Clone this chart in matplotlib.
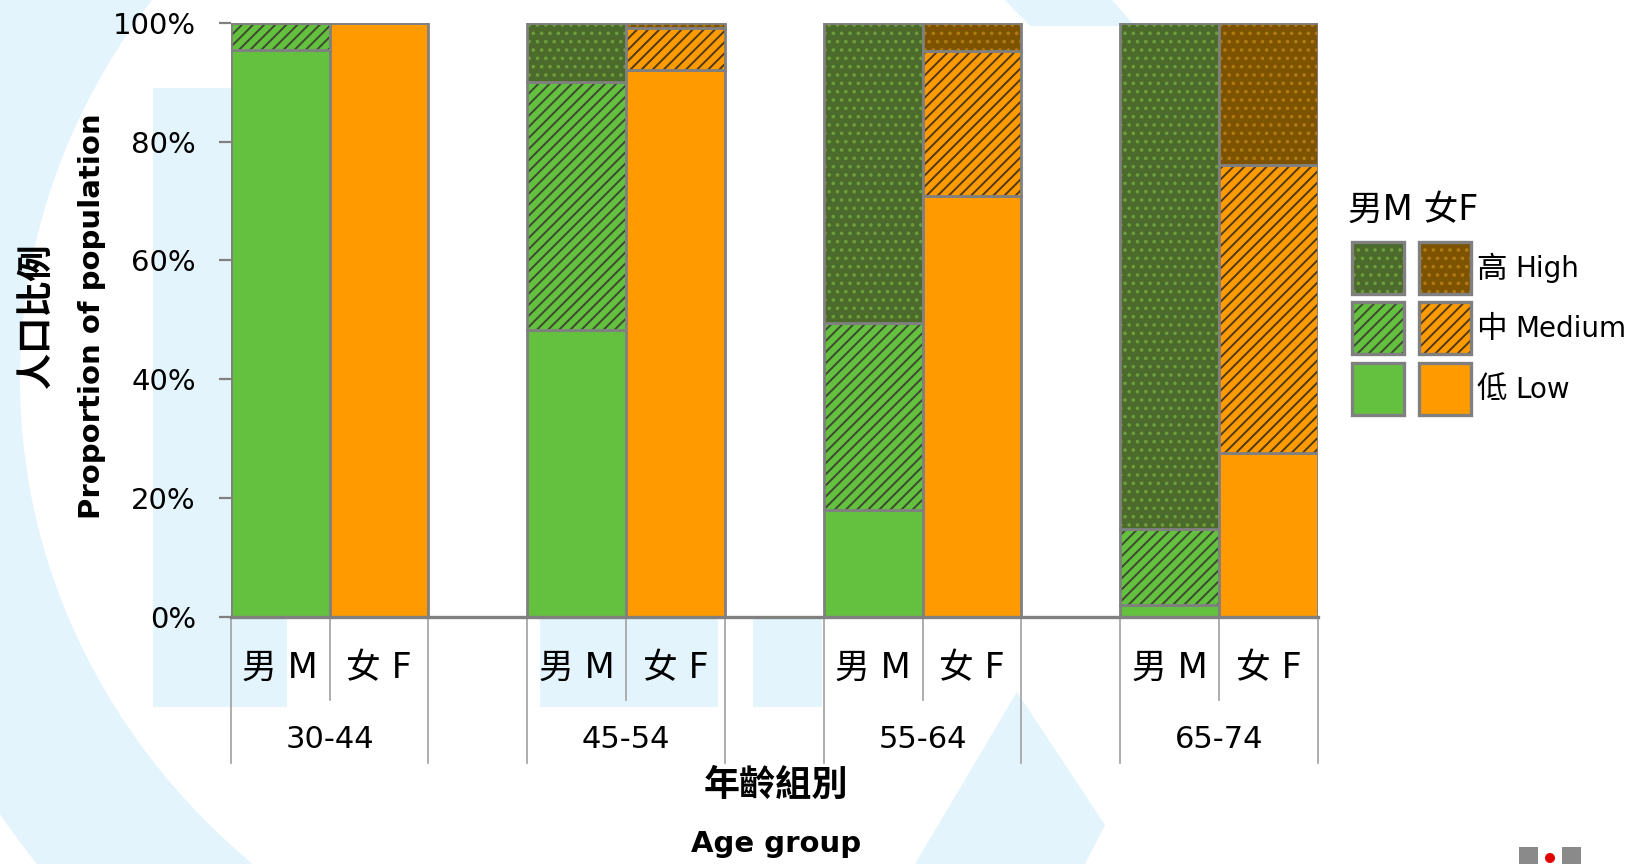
import matplotlib
matplotlib.use("Agg")
import matplotlib.pyplot as plt
import matplotlib.transforms as mtransforms
from matplotlib.patches import Rectangle, Polygon, Circle
import numpy as np

# data (percent of each sex within age group)
ages = ["30-44", "45-54", "55-64", "65-74"]
sex_labels = ["男 M", "女 F"]
male_low = [95.5, 48.2, 18.0, 2.0]
male_med = [4.5, 41.8, 31.5, 12.8]
male_high = [0.0, 10.0, 50.5, 85.2]
female_low = [100.0, 92.0, 70.8, 27.6]
female_med = [0.0, 7.2, 24.5, 48.5]
female_high = [0.0, 0.8, 4.7, 23.9]
yticks = [0, 20, 40, 60, 80, 100]

plt.rcParams["font.family"] = ["DejaVu Sans", "Noto Sans CJK TC"]
plt.rcParams["hatch.linewidth"] = 1.4

GREEN = "#63C13F"
ORANGE = "#FF9A00"
DKGREEN = "#4B6A2B"
DKBROWN = "#7D5300"
BORDER = "#808080"
WM = "#E3F4FC"

fig = plt.figure(figsize=(16.44, 8.64), dpi=100)

# background layer in pixel coords (watermark + legend)
bg = fig.add_axes([0, 0, 1, 1], zorder=0)
bg.set_xlim(0, 1644)
bg.set_ylim(864, 0)
bg.axis("off")

# faint logo watermark
t = np.linspace(np.pi * 0.5, np.pi * 1.5, 200)
cx, cy = 720, 380
outer = np.c_[cx + 855 * np.cos(t), cy - 805 * np.sin(t)]
inner = np.c_[cx + 700 * np.cos(t[::-1]), cy - 650 * np.sin(t[::-1])]
bg.add_patch(Polygon(np.vstack([outer, inner]), closed=True, color=WM, lw=0))
bg.add_patch(Rectangle((153, 88), 134, 619, color=WM, lw=0))
bg.add_patch(Rectangle((540, 617), 178, 90, color=WM, lw=0))
bg.add_patch(Rectangle((753, 617), 69, 90, color=WM, lw=0))
bg.add_patch(Polygon([(1017, 692), (1105, 825), (1085, 864), (915, 864)], color=WM, lw=0))
bg.add_patch(Polygon([(1005, 0), (1112, 0), (1135, 26), (1030, 26)], color=WM, lw=0))

# small logo bottom right
bg.add_patch(Rectangle((1519, 847), 19, 17, color="#8A8A8A", lw=0))
bg.add_patch(Rectangle((1562, 847), 19, 17, color="#8A8A8A", lw=0))
bg.add_patch(Circle((1550, 858), 5, color="#E00000", lw=0))

ax = fig.add_axes([230.7 / 1644, 1 - 616.5 / 864, (1318 - 230.7) / 1644, 593.5 / 864], zorder=1)
ax.patch.set_alpha(0)

m_pos = np.array([0, 3, 6, 9]) + 0.5
f_pos = m_pos + 1


def stack(pos, low, med, high, base, dark, stripe, dots):
    low = np.array(low)
    med = np.array(med)
    high = np.array(high)
    layers = [(low, 0, base, None, None),
              (med, low, base, "///", stripe),
              (high, low + med, dark, "..", dots)]
    for vals, bottom, face, hatch, hcol in layers:
        ax.bar(pos, vals, 1.0, bottom=bottom, color=face, linewidth=0)
        if hatch:
            ax.bar(pos, vals, 1.0, bottom=bottom, fill=False, hatch=hatch,
                   edgecolor=hcol, linewidth=0)
        ax.bar(pos, vals, 1.0, bottom=bottom, fill=False, edgecolor=BORDER, linewidth=2.0)


stack(m_pos, male_low, male_med, male_high, GREEN, DKGREEN, "#3E4A30", "#6E9E3A")
stack(f_pos, female_low, female_med, female_high, ORANGE, DKBROWN, "#4E3A18", "#B07A10")

ax.set_xlim(0, 11)
ax.set_ylim(0, 100)
ax.set_xticks([])
ax.set_yticks(yticks)
ax.set_yticklabels([f"{v}%" for v in yticks])
ax.tick_params(axis="y", length=9, width=1.6, color=BORDER, pad=16, labelsize=21)
for s in ["top", "right", "left"]:
    ax.spines[s].set_visible(False)
ax.spines["bottom"].set_color(BORDER)
ax.spines["bottom"].set_linewidth(2.4)

# multi-level category axis
tr = mtransforms.blended_transform_factory(ax.transData, ax.transAxes)
for xb in [0, 2, 3, 5, 6, 8, 9, 11]:
    ax.plot([xb, xb], [0, -0.247], transform=tr, color="#A0A0A0", lw=1.2, clip_on=False)
for xb in [1, 4, 7, 10]:
    ax.plot([xb, xb], [0, -0.141], transform=tr, color="#A0A0A0", lw=1.2, clip_on=False)
for i, age in enumerate(ages):
    ax.text(m_pos[i], -0.087, sex_labels[0], transform=tr, ha="center", va="center", fontsize=25)
    ax.text(f_pos[i], -0.087, sex_labels[1], transform=tr, ha="center", va="center", fontsize=25)
    ax.text(m_pos[i] + 0.5, -0.208, age, transform=tr, ha="center", va="center", fontsize=22)

# axis titles
fig.text(776 / 1644, 1 - 786 / 864, "年齡組別", ha="center", va="center", fontsize=26, fontweight="bold")
fig.text(776 / 1644, 1 - 844 / 864, "Age group", ha="center", va="center", fontsize=21, fontweight="bold")
fig.text(37 / 1644, 1 - 316 / 864, "人口比例", ha="center", va="center", rotation=90, fontsize=26, fontweight="bold")
fig.text(92 / 1644, 1 - 316 / 864, "Proportion of population", ha="center", va="center", rotation=90,
         fontsize=21, fontweight="bold")

# legend
bg.text(1348, 210, "男M 女F", ha="left", va="center", fontsize=25)
rows = [("高", "High", DKGREEN, DKBROWN, "..", "#6E9E3A", "#B07A10", 242),
        ("中", "Medium", GREEN, ORANGE, "///", "#3E4A30", "#4E3A18", 302),
        ("低", "Low", GREEN, ORANGE, None, None, None, 363)]
for zh, en, cm, cf, hatch, hm, hf, y in rows:
    for x0, c, hc in [(1352, cm, hm), (1419, cf, hf)]:
        bg.add_patch(Rectangle((x0, y), 52, 52, facecolor=c, lw=0))
        if hatch:
            bg.add_patch(Rectangle((x0, y), 52, 52, fill=False, hatch=hatch, edgecolor=hc, lw=0))
        bg.add_patch(Rectangle((x0, y), 52, 52, fill=False, edgecolor=BORDER, lw=2.4))
    bg.text(1476, y + 27, zh, ha="left", va="center", fontsize=22)
    bg.text(1515, y + 27, en, ha="left", va="center", fontsize=20)

fig.savefig("out.png", dpi=100)
